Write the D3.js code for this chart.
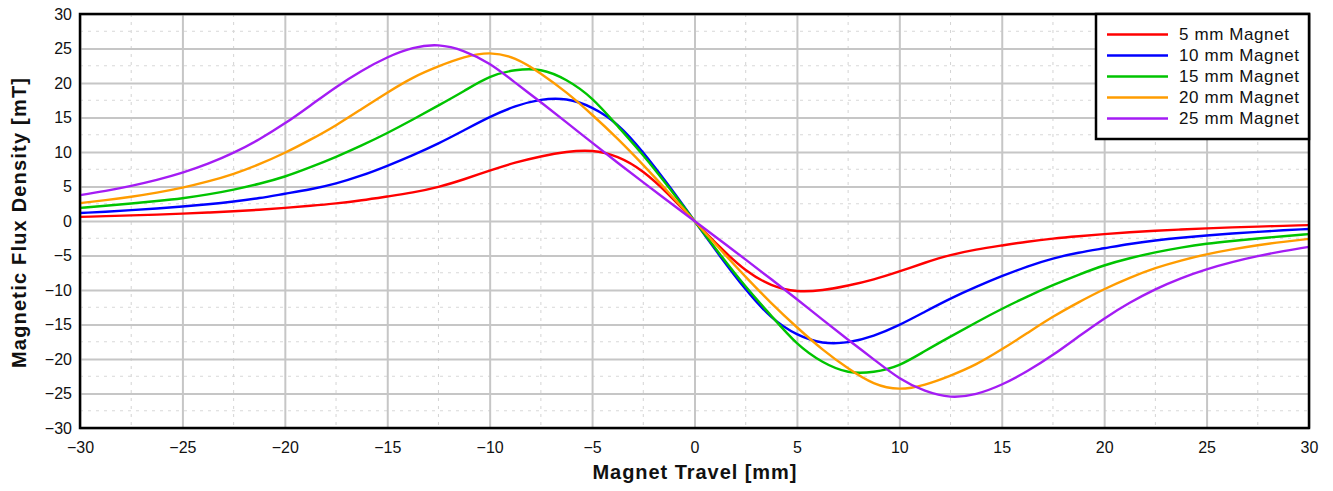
<!DOCTYPE html>
<html>
<head>
<meta charset="utf-8">
<script src="https://cdn.jsdelivr.net/npm/d3@7"></script>
<style>
  html, body { margin: 0; padding: 0; background: #fff; }
  svg { display: block; font-family: "Liberation Sans", Arial, sans-serif; }
</style>
</head>
<body>
<svg id="chart" width="1333" height="491"></svg>
<script>
// Magnet travel positions [mm], 1.25 mm steps
const travel = [-30, -28.75, -27.5, -26.25, -25, -23.75, -22.5, -21.25, -20, -18.75, -17.5, -16.25,
  -15, -13.75, -12.5, -11.25, -10, -8.75, -7.5, -6.25, -5, -3.75, -2.5, -1.25,
  0, 1.25, 2.5, 3.75, 5, 6.25, 7.5, 8.75, 10, 11.25, 12.5, 13.75,
  15, 16.25, 17.5, 18.75, 20, 21.25, 22.5, 23.75, 25, 26.25, 27.5, 28.75, 30];

// Flux density [mT] for each magnet size
const mag5 = [0.6, 0.7, 0.81, 0.93, 1.07, 1.23, 1.41, 1.63, 1.9, 2.2, 2.55, 3.0,
  3.55, 4.15, 4.95, 6.05, 7.3, 8.45, 9.35, 10.0, 10.15, 9.25, 7.1, 3.8,
  0, -3.8, -7.1, -9.25, -10.15, -10.0, -9.35, -8.45, -7.3, -6.05, -4.95, -4.15,
  -3.55, -3.0, -2.55, -2.2, -1.9, -1.63, -1.41, -1.23, -1.07, -0.93, -0.81, -0.7, -0.6];
const mag10 = [1.15, 1.35, 1.57, 1.82, 2.1, 2.43, 2.83, 3.33, 3.95, 4.6, 5.45, 6.6,
  8.0, 9.55, 11.25, 13.15, 15.05, 16.6, 17.55, 17.6, 16.4, 13.9, 9.9, 5.1,
  0, -5.1, -9.9, -13.9, -16.4, -17.6, -17.55, -16.6, -15.05, -13.15, -11.25, -9.55,
  -8.0, -6.6, -5.45, -4.6, -3.95, -3.33, -2.83, -2.43, -2.1, -1.82, -1.57, -1.35, -1.15];
const mag15 = [1.9, 2.2, 2.53, 2.89, 3.3, 3.85, 4.55, 5.4, 6.45, 7.8, 9.3, 10.95,
  12.75, 14.7, 16.75, 18.85, 20.85, 21.85, 21.85, 20.4, 17.7, 13.75, 9.5, 4.85,
  0, -4.85, -9.5, -13.75, -17.7, -20.4, -21.85, -21.85, -20.85, -18.85, -16.75, -14.7,
  -12.75, -10.95, -9.3, -7.8, -6.45, -5.4, -4.55, -3.85, -3.3, -2.89, -2.53, -2.2, -1.9];
const mag20 = [2.6, 3.02, 3.52, 4.12, 4.84, 5.74, 6.84, 8.24, 9.89, 11.79, 13.89, 16.24,
  18.6, 20.75, 22.4, 23.7, 24.3, 23.5, 21.35, 18.6, 15.4, 11.9, 8.1, 4.1,
  0, -4.1, -8.1, -11.9, -15.4, -18.6, -21.35, -23.5, -24.3, -23.7, -22.4, -20.75,
  -18.6, -16.24, -13.89, -11.79, -9.89, -8.24, -6.84, -5.74, -4.84, -4.12, -3.52, -3.02, -2.6];
const mag25 = [3.75, 4.37, 5.09, 5.95, 7.0, 8.3, 9.9, 11.85, 14.15, 16.75, 19.4, 21.75,
  23.7, 25.05, 25.45, 24.6, 22.75, 20.05, 17.2, 14.3, 11.35, 8.45, 5.6, 2.8,
  0, -2.8, -5.6, -8.45, -11.35, -14.3, -17.2, -20.05, -22.75, -24.6, -25.45, -25.05,
  -23.7, -21.75, -19.4, -16.75, -14.15, -11.85, -9.9, -8.3, -7.0, -5.95, -5.09, -4.37, -3.75];

const seriesNames = ["5 mm Magnet", "10 mm Magnet", "15 mm Magnet", "20 mm Magnet", "25 mm Magnet"];
const seriesValues = [mag5, mag10, mag15, mag20, mag25];
const seriesColors = ["#ff0000", "#0000ff", "#00c400", "#ff9c00", "#a41cf4"];

const xTicks = [-30, -25, -20, -15, -10, -5, 0, 5, 10, 15, 20, 25, 30];
const yTicks = [-30, -25, -20, -15, -10, -5, 0, 5, 10, 15, 20, 25, 30];
const xMinor = [-27.5, -22.5, -17.5, -12.5, -7.5, -2.5, 2.5, 7.5, 12.5, 17.5, 22.5, 27.5];
const yMinor = [-27.5, -22.5, -17.5, -12.5, -7.5, -2.5, 2.5, 7.5, 12.5, 17.5, 22.5, 27.5];

const svg = d3.select("#chart");
const plot = { left: 80, right: 1309, top: 14, bottom: 428 };

const x = d3.scaleLinear().domain([-30, 30]).range([plot.left, plot.right]);
const y = d3.scaleLinear().domain([-30, 30]).range([plot.bottom, plot.top]);

// Minor dashed grid
const grid = svg.append("g");
grid.selectAll(".vminor").data(xMinor).join("line")
  .attr("x1", d => x(d)).attr("x2", d => x(d))
  .attr("y1", plot.top).attr("y2", plot.bottom)
  .attr("stroke", "#d4d4d4").attr("stroke-width", 1).attr("stroke-dasharray", "3,5");
grid.selectAll(".hminor").data(yMinor).join("line")
  .attr("y1", d => y(d)).attr("y2", d => y(d))
  .attr("x1", plot.left).attr("x2", plot.right)
  .attr("stroke", "#d8d8d8").attr("stroke-width", 1).attr("stroke-dasharray", "3,5");

// Major grid with tick labels
const gx = svg.append("g").attr("transform", `translate(0,${plot.bottom})`)
  .call(d3.axisBottom(x).tickValues(xTicks).tickSize(-(plot.bottom - plot.top)).tickPadding(16).tickFormat(d3.format("d")));
const gy = svg.append("g").attr("transform", `translate(${plot.left},0)`)
  .call(d3.axisLeft(y).tickValues(yTicks).tickSize(-(plot.right - plot.left)).tickPadding(8).tickFormat(d3.format("d")));
[gx, gy].forEach(g => {
  g.select(".domain").remove();
  g.selectAll(".tick line").attr("stroke", "#c6c6c6").attr("stroke-width", 2);
  g.selectAll(".tick text").attr("fill", "#111").style("font-size", "16px")
    .style("font-family", "'Liberation Sans', Arial, sans-serif");
});
gx.selectAll(".tick text").attr("dy", "0.55em");

// Curves
const line = d3.line()
  .x((d, i) => x(travel[i]))
  .y(d => y(d))
  .curve(d3.curveNatural);

svg.append("g").selectAll("path").data(seriesValues).join("path")
  .attr("d", d => line(d))
  .attr("fill", "none")
  .attr("stroke", (d, i) => seriesColors[i])
  .attr("stroke-width", 2.4)
  .attr("stroke-linejoin", "round");

// Plot frame
svg.append("rect")
  .attr("x", plot.left).attr("y", plot.top)
  .attr("width", plot.right - plot.left).attr("height", plot.bottom - plot.top)
  .attr("fill", "none").attr("stroke", "#000").attr("stroke-width", 2.5);

// Legend
const legend = svg.append("g");
legend.append("rect")
  .attr("x", 1096).attr("y", plot.top)
  .attr("width", plot.right - 1096).attr("height", 139 - plot.top)
  .attr("fill", "#fff").attr("stroke", "#000").attr("stroke-width", 2.5);
const items = legend.selectAll(".item").data(seriesNames).join("g")
  .attr("transform", (d, i) => `translate(0,${34.5 + i * 21})`);
items.append("line")
  .attr("x1", 1107).attr("x2", 1168).attr("y1", 0).attr("y2", 0)
  .attr("stroke", (d, i) => seriesColors[i]).attr("stroke-width", 2.4);
items.append("text")
  .attr("x", 1179).attr("y", 0).attr("dy", "0.35em")
  .attr("fill", "#111").style("font-size", "17px").style("letter-spacing", "0.6px")
  .text(d => d);

// Axis titles
svg.append("text")
  .attr("x", x(0)).attr("y", 478.5)
  .attr("text-anchor", "middle")
  .attr("textLength", 204).attr("lengthAdjust", "spacing")
  .style("font-size", "20px").style("font-weight", "bold").attr("fill", "#111")
  .text("Magnet Travel [mm]");
svg.append("text")
  .attr("transform", `translate(26,${y(0) + 2}) rotate(-90)`)
  .attr("text-anchor", "middle")
  .attr("textLength", 290).attr("lengthAdjust", "spacing")
  .style("font-size", "20px").style("font-weight", "bold").attr("fill", "#111")
  .text("Magnetic Flux Density [mT]");
</script>
</body>
</html>
